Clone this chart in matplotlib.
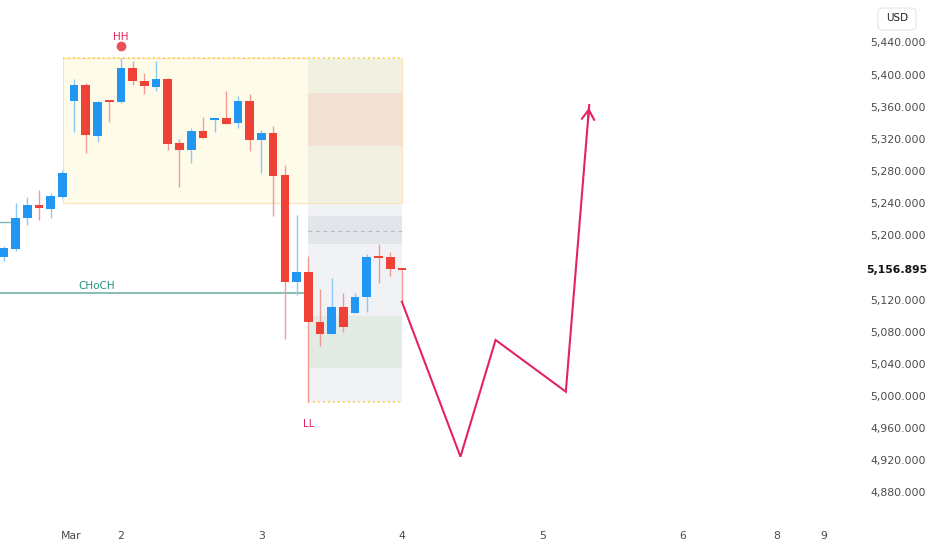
import numpy as np
import matplotlib.pyplot as plt
from matplotlib.patches import Rectangle, FancyBboxPatch

# 2h candles, index 0 = Mar 2 00:00
idx = np.arange(-10, 25)
opens = [5173.0, 5182.9, 5221.5, 5237.7, 5232.7, 5247.6, 5367.1, 5387.0, 5323.5, 5367.1,
         5365.9, 5408.2, 5392.0, 5384.5, 5394.5, 5314.8, 5306.1, 5329.8, 5343.5, 5345.9,
         5339.7, 5367.1, 5318.6, 5327.3, 5275.0, 5141.9, 5154.3, 5092.1, 5077.2, 5110.8,
         5103.3, 5123.2, 5173.0, 5173.0, 5158.0]
highs = [5186.7, 5240.2, 5247.6, 5256.3, 5252.6, 5281.2, 5394.5, 5389.5, 5367.0, 5367.5,
         5420.6, 5416.9, 5401.9, 5416.9, 5395.7, 5319.8, 5333.5, 5347.2, 5346.2, 5379.5,
         5373.3, 5375.8, 5331.0, 5336.0, 5287.5, 5225.2, 5174.2, 5133.2, 5146.8, 5128.2,
         5128.2, 5176.7, 5189.2, 5179.2, 5158.0]
lows = [5168.0, 5181.0, 5212.8, 5219.0, 5221.5, 5246.0, 5328.5, 5302.4, 5316.1, 5341.0,
        5364.6, 5387.0, 5375.8, 5379.5, 5306.1, 5260.1, 5289.9, 5320.5, 5328.5, 5338.0,
        5333.5, 5304.9, 5277.5, 5224.0, 5070.9, 5125.7, 4993.0, 5062.2, 5077.0, 5079.6,
        5103.0, 5104.5, 5140.6, 5149.3, 5117.0]
closes = [5184.2, 5221.5, 5237.7, 5233.9, 5248.9, 5277.5, 5387.0, 5324.8, 5365.9, 5365.9,
          5408.2, 5392.0, 5385.8, 5394.5, 5313.6, 5306.1, 5329.8, 5321.1, 5345.9, 5338.5,
          5367.1, 5318.6, 5327.3, 5273.8, 5141.9, 5154.3, 5092.1, 5077.2, 5110.8, 5085.9,
          5123.2, 5173.0, 5171.7, 5158.0, 5156.9]
last_price = 5156.895

# projected path (bar index, price)
path_x = [24, 29, 32, 38, 40]
path_y = [5117.3, 4924.5, 5069.7, 5005.4, 5362.1]

# zones
premium_lo, premium_hi = 5240.2, 5420.6
zone_left, zone_right = 15.94, 24.0
pink_lo, pink_hi = 5311.5, 5376.7
lower_lo, lower_hi = 4992.9, 5240.2
grey_lo, grey_hi, grey_mid = 5188.8, 5224.4, 5205.7
green_lo, green_hi = 5035.2, 5099.9
choch = 5128.2
old_level = 5216.5

yticks = [p for p in range(4880, 5441, 40) if p != 5160]
xtick_pos = [-4.25, 0, 12, 24, 36, 48, 56, 60]
xtick_lab = ['Mar', '2', '3', '4', '5', '6', '8', '9']

UP = '#2196f3'
DOWN = '#ef4136'
PINK = '#e5235f'

fig = plt.figure(figsize=(9.32, 5.5), dpi=100)
ax = fig.add_axes([0, 30 / 550, 855 / 932, 520 / 550])
ax.set_xlim(-10.33, 62.7)
ax.set_ylim(4845.7, 5492.8)

# zones
ax.add_patch(Rectangle((-4.95, premium_lo), 24.0 + 4.95, premium_hi - premium_lo,
                       facecolor='#fffbe9', edgecolor='#fde0b8', lw=0.8, zorder=0))
ax.plot([-4.95, 24.0], [premium_hi] * 2, color='#f6cf3a', lw=1.2, ls=(0, (1, 2)), zorder=1)
ax.add_patch(Rectangle((zone_left, premium_lo), zone_right - zone_left, premium_hi - premium_lo,
                       facecolor='#f1f1e2', edgecolor='none', zorder=0.5))
ax.add_patch(Rectangle((zone_left, pink_lo), zone_right - zone_left, pink_hi - pink_lo,
                       facecolor='#f3e1d3', edgecolor='none', zorder=0.6))
ax.add_patch(Rectangle((zone_left, lower_lo), zone_right - zone_left, lower_hi - lower_lo - 1.2,
                       facecolor='#f0f2f6', edgecolor='none', zorder=0.5))
ax.add_patch(Rectangle((zone_left, grey_lo), zone_right - zone_left, grey_hi - grey_lo,
                       facecolor='#e2e5e9', edgecolor='none', zorder=0.6))
ax.plot([zone_left, zone_right], [grey_mid] * 2, color='#b8bcc4', lw=0.9, ls=(0, (3, 3)), zorder=0.7)
ax.add_patch(Rectangle((zone_left, green_lo), zone_right - zone_left, green_hi - green_lo,
                       facecolor='#e2ece4', edgecolor='none', zorder=0.6))
ax.plot([zone_left, zone_right], [lower_lo] * 2, color='#f6cf3a', lw=1.2, ls=(0, (1, 2)), zorder=1)

# structure lines
ax.plot([-10.33, 15.7], [choch] * 2, color='#7fb8b0', lw=1.3, zorder=1)
ax.text(-2.1, choch + 3, 'CHoCH', color='#1f9279', fontsize=7.5, ha='center', va='bottom')
ax.plot([-10.33, -9.5], [old_level] * 2, color='#7fb8b0', lw=1.0, zorder=1)

# candles
o = np.array(opens); c = np.array(closes)
colors = [UP if cc >= oo else DOWN for oo, cc in zip(o, c)]
wick_cols = ['#8cc8f7' if col == UP else '#f49a94' for col in colors]
ax.vlines(idx, lows, highs, colors=wick_cols, lw=1.0, zorder=2)
height = np.abs(c - o)
height = np.maximum(height, 2.0)
bottom = np.minimum(o, c)
ax.bar(idx, height, bottom=bottom, width=0.74, color=colors, zorder=3)

# HH / LL
ax.text(0, 5446.7, 'HH', color=PINK, fontsize=7.5, ha='center', va='center')
ax.plot(0, 5435.5, 'o', color='#ef4f5a', ms=6, zorder=4)
ax.text(16, 4965.2, 'LL', color=PINK, fontsize=7.5, ha='center', va='center')

# projection
ax.plot(path_x, path_y, color=PINK, lw=1.5, solid_joinstyle='miter', zorder=4)
ax.annotate('', xy=(path_x[-1], path_y[-1]), xytext=(path_x[-1] - 0.12, path_y[-1] - 20),
            arrowprops=dict(arrowstyle='->,head_length=0.7,head_width=0.45', color=PINK, lw=1.5))

# axes styling
for s in ax.spines.values():
    s.set_visible(False)
ax.yaxis.tick_right()
ax.set_yticks(yticks)
ax.set_yticklabels([f'{p:,.3f}' for p in yticks])
ax.tick_params(axis='y', length=0, pad=11, labelsize=7.8, labelcolor='#4a4a4a')
ax.set_xticks(xtick_pos)
ax.set_xticklabels(xtick_lab)
ax.tick_params(axis='x', length=0, pad=8, labelsize=7.8, labelcolor='#4a4a4a')

ax.text(1.0 + 11 / 855, last_price, f'{last_price:,.3f}', transform=ax.get_yaxis_transform(),
        fontsize=7.8, fontweight='bold', color='#111111', ha='left', va='center')

fig.patches.append(FancyBboxPatch((878 / 932, 1 - 30 / 550), 38 / 932, 22 / 550,
                                  boxstyle='round,pad=0,rounding_size=0.006',
                                  transform=fig.transFigure, facecolor='white',
                                  edgecolor='#e6e6e6', lw=0.8))
fig.text(897 / 932, 1 - 18 / 550, 'USD', fontsize=7.5, color='#222222', ha='center', va='center')

fig.savefig('out.png', dpi=100)
